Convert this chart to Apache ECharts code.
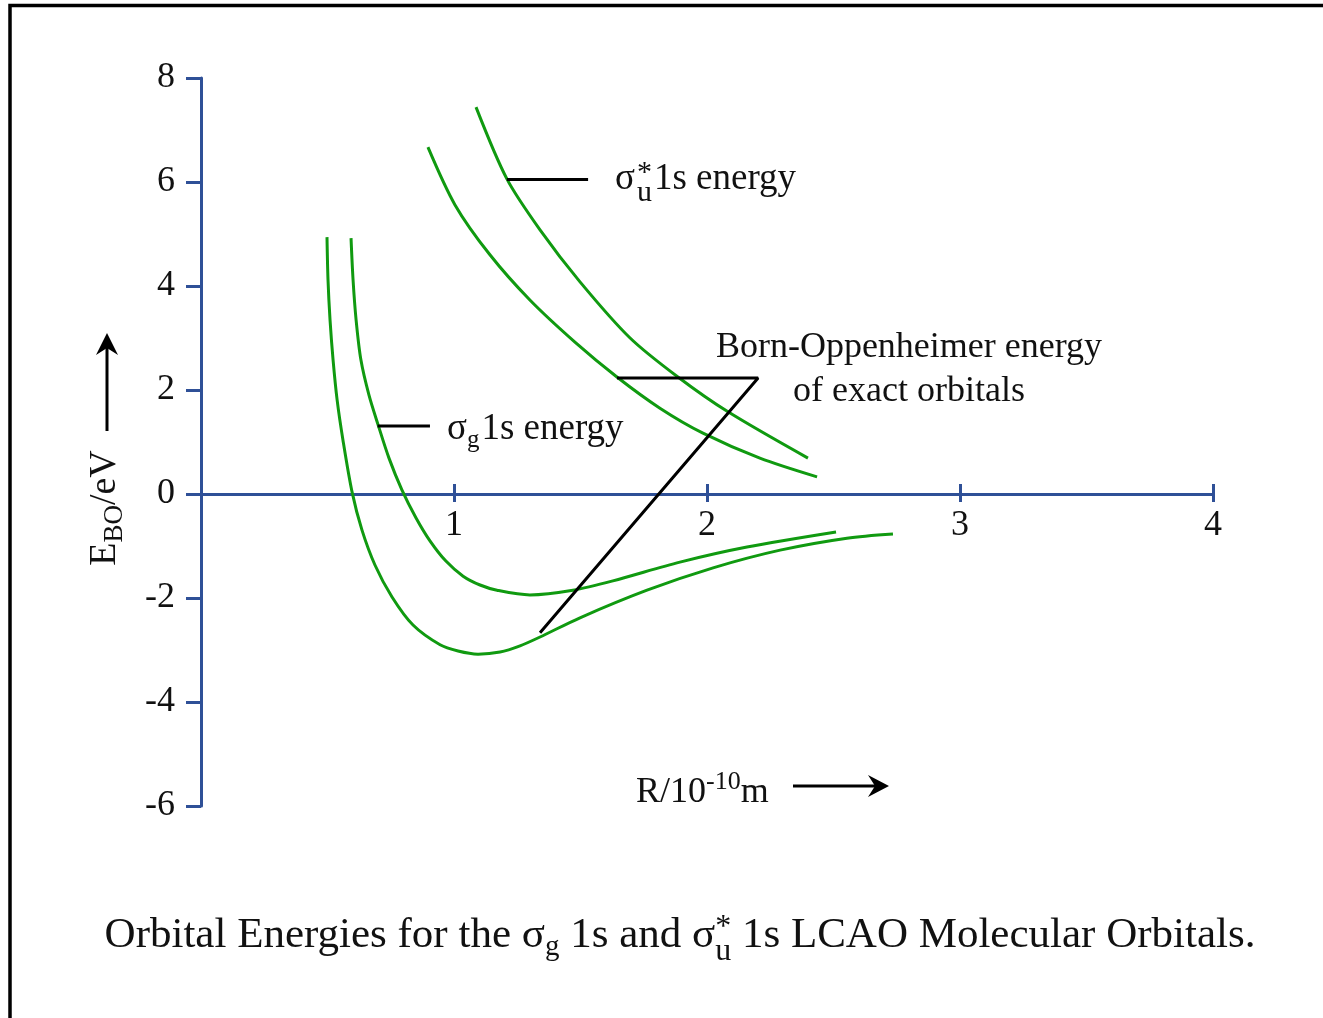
<!DOCTYPE html>
<html><head><meta charset="utf-8">
<script src="https://cdn.jsdelivr.net/npm/echarts@6/dist/echarts.min.js"></script>
<style>html,body{margin:0;padding:0;background:#fff}#c{width:1323px;height:1018px}</style>
</head><body><div id="c"></div>
<script>
// ---- data (R in 1e-10 m, E in eV) ----
const xTicks = [1, 2, 3, 4];
const yTicks = [-6, -4, -2, 0, 2, 4, 6, 8];
const bondDeepR = [0.498,0.502,0.510,0.522,0.538,0.561,0.597,0.636,0.688,0.755,0.838,0.945,1.016,1.095,1.182,1.261,1.340,1.498,1.763,2.024,2.289,2.553,2.735];
const bondDeepE = [4.94,4.12,3.35,2.58,1.81,1.04,0.04,-0.69,-1.37,-1.98,-2.52,-2.90,-3.02,-3.08,-3.04,-2.92,-2.75,-2.38,-1.85,-1.42,-1.08,-0.85,-0.77];
const bondLcaoR = [0.593,0.601,0.613,0.632,0.664,0.700,0.743,0.794,0.850,0.905,0.968,1.036,1.103,1.170,1.300,1.470,1.628,1.893,2.158,2.510];
const bondLcaoE = [4.92,4.12,3.35,2.58,1.90,1.33,0.69,0.08,-0.46,-0.90,-1.29,-1.58,-1.75,-1.85,-1.94,-1.85,-1.67,-1.31,-1.02,-0.73];
const antiLcaoR = [1.087,1.209,1.340,1.498,1.696,1.885,2.083,2.399];
const antiLcaoE = [7.44,6.06,5.08,4.08,3.00,2.25,1.58,0.69];
const antiExactR = [0.897,1.004,1.142,1.300,1.478,1.644,1.814,1.984,2.209,2.435];
const antiExactE = [6.67,5.56,4.60,3.73,2.92,2.25,1.65,1.17,0.69,0.33];
// annotation leader lines
const leadSigUR = [1.209, 1.530];
const leadSigUE = [6.05, 6.05];
const leadSigGR = [0.698, 0.905];
const leadSigGE = [1.31, 1.31];
const leadBOR = [1.644, 2.202, 1.340];
const leadBOE = [2.23, 2.23, -2.67];

const FONT = '"Liberation Serif","Times New Roman",serif';
const GREEN = '#109A10', BLUE = '#2f5097', INK = '#111';
const mctx = document.createElement('canvas').getContext('2d');
function tw(t, s) { mctx.font = s + 'px ' + FONT; return mctx.measureText(t).width; }
function txt(t, s, x, y, align) {
  return { type: 'text', x: x, y: y, z: 100,
    style: { text: t, font: s + 'px ' + FONT, fill: INK, align: align || 'left', verticalAlign: 'middle',
             textAlign: align || 'left', textVerticalAlign: 'middle' } };
}
function buildText(pieces, x0, yc, anchor) {
  const widths = pieces.map(p => (p.stack ? Math.max(...p.stack.map(q => tw(q.t, q.s))) : tw(p.t, p.s)) + (p.gap || 0));
  const total = widths.reduce((a, b) => a + b, 0);
  let x = anchor === 'center' ? x0 - total / 2 : x0;
  const out = [];
  pieces.forEach((p, i) => {
    (p.stack || [p]).forEach(q => out.push(txt(q.t, q.s, x + (p.pre || 0), yc + (q.dy || 0))));
    x += widths[i];
  });
  return out;
}
function pairs(R, E) { return R.map((r, i) => [r, E[i]]); }
function curve(R, E) {
  return { type: 'line', data: pairs(R, E), smooth: 0.3, symbol: 'none', showSymbol: false,
    lineStyle: { color: GREEN, width: 3 }, silent: true, z: 3 };
}
function leader(R, E) {
  return { type: 'line', data: pairs(R, E), smooth: false, symbol: 'none', showSymbol: false,
    lineStyle: { color: '#000', width: 3 }, silent: true, z: 4 };
}

const chart = echarts.init(document.getElementById('c'), null, { renderer: 'canvas' });

const graphics = [];
graphics.push({ type: 'rect', shape: { x: 10, y: 5.5, width: 1500, height: 1200 },
  style: { fill: null, stroke: '#000', lineWidth: 3.5 }, z: 100 });
// y arrow
graphics.push({ type: 'line', shape: { x1: 107, y1: 431, x2: 107, y2: 342 }, style: { stroke: '#000', lineWidth: 3 }, z: 100 });
graphics.push({ type: 'polygon', shape: { points: [[107, 333], [96, 355], [107, 348], [118, 355]] }, style: { fill: '#000' }, z: 100 });
// x arrow
graphics.push({ type: 'line', shape: { x1: 793, y1: 786, x2: 880, y2: 786 }, style: { stroke: '#000', lineWidth: 3 }, z: 100 });
graphics.push({ type: 'polygon', shape: { points: [[889, 786], [868, 775], [875, 786], [868, 797]] }, style: { fill: '#000' }, z: 100 });

// annotation labels
graphics.push(...buildText([
  { t: 'σ', s: 37 }, { t: 'g', s: 25, dy: 11, gap: 2 }, { t: '1s energy', s: 37 }
], 447, 429));
graphics.push(...buildText([
  { t: 'σ', s: 37 }, { stack: [{ t: '*', s: 30, dy: -6 }, { t: 'u', s: 30, dy: 14 }], pre: 2, gap: 4 }, { t: '1s energy', s: 37 }
], 615, 179));
graphics.push(txt('Born-Oppenheimer energy', 36, 909, 348, 'center'));
graphics.push(txt('of exact orbitals', 36, 909, 392, 'center'));
// x axis name
graphics.push(...buildText([
  { t: 'R/10', s: 36 }, { t: '-10', s: 26, dy: -11 }, { t: 'm', s: 36 }
], 636, 793));
// y axis name (rotated)
graphics.push({ type: 'group', x: 105, y: 508, rotation: Math.PI / 2,
  children: buildText([{ t: 'E', s: 38 }, { t: 'BO', s: 27, dy: 10 }, { t: '/eV', s: 38 }], 0, 0, 'center') });
// caption
graphics.push(...buildText([
  { t: 'Orbital Energies for the σ', s: 43 }, { t: 'g', s: 29, dy: 11 },
  { t: ' 1s and σ', s: 43 }, { stack: [{ t: '*', s: 32, dy: -8 }, { t: 'u', s: 32, dy: 16 }] },
  { t: ' 1s LCAO Molecular Orbitals.', s: 43 }
], 680, 936, 'center'));

const axisFont = { fontFamily: FONT, fontSize: 36, color: INK };
// x axis sits on E = 0: offset it up from the grid bottom (8 of 14 units above, 6 below)
const gridTop = 78, gridH = 728;
const zeroOffset = -gridH * 6 / 14;
chart.setOption({
  animation: false,
  backgroundColor: '#fff',
  grid: { left: 201, right: 110, top: gridTop, height: gridH, containLabel: false },
  xAxis: [{
    type: 'value', min: 0, max: 4, interval: 1, position: 'bottom', offset: zeroOffset,
    axisLine: { show: true, onZero: false, lineStyle: { color: BLUE, width: 3 } },
    axisTick: { show: true, length: 8, lineStyle: { color: BLUE, width: 3 } },
    axisLabel: Object.assign({ margin: 14, showMinLabel: false,
      formatter: v => (xTicks.indexOf(v) >= 0 ? String(v) : '') }, axisFont),
    splitLine: { show: false }
  }, {
    type: 'value', min: 0, max: 4, interval: 1, position: 'bottom', offset: zeroOffset,
    axisLine: { show: false, onZero: false },
    axisTick: { show: true, inside: true, length: 10, lineStyle: { color: BLUE, width: 3 } },
    axisLabel: { show: false }, splitLine: { show: false }
  }],
  yAxis: {
    type: 'value', min: -6, max: 8, interval: 2,
    axisLine: { show: true, onZero: false, lineStyle: { color: BLUE, width: 3 } },
    axisTick: { show: true, length: 15, lineStyle: { color: BLUE, width: 3 } },
    axisLabel: Object.assign({ margin: 26,
      formatter: v => (yTicks.indexOf(v) >= 0 ? String(v) : '') }, axisFont),
    splitLine: { show: false }
  },
  series: [
    curve(bondDeepR, bondDeepE),
    curve(bondLcaoR, bondLcaoE),
    curve(antiLcaoR, antiLcaoE),
    curve(antiExactR, antiExactE),
    leader(leadSigUR, leadSigUE),
    leader(leadSigGR, leadSigGE),
    leader(leadBOR, leadBOE)
  ],
  graphic: graphics
});
</script>
</body></html>
